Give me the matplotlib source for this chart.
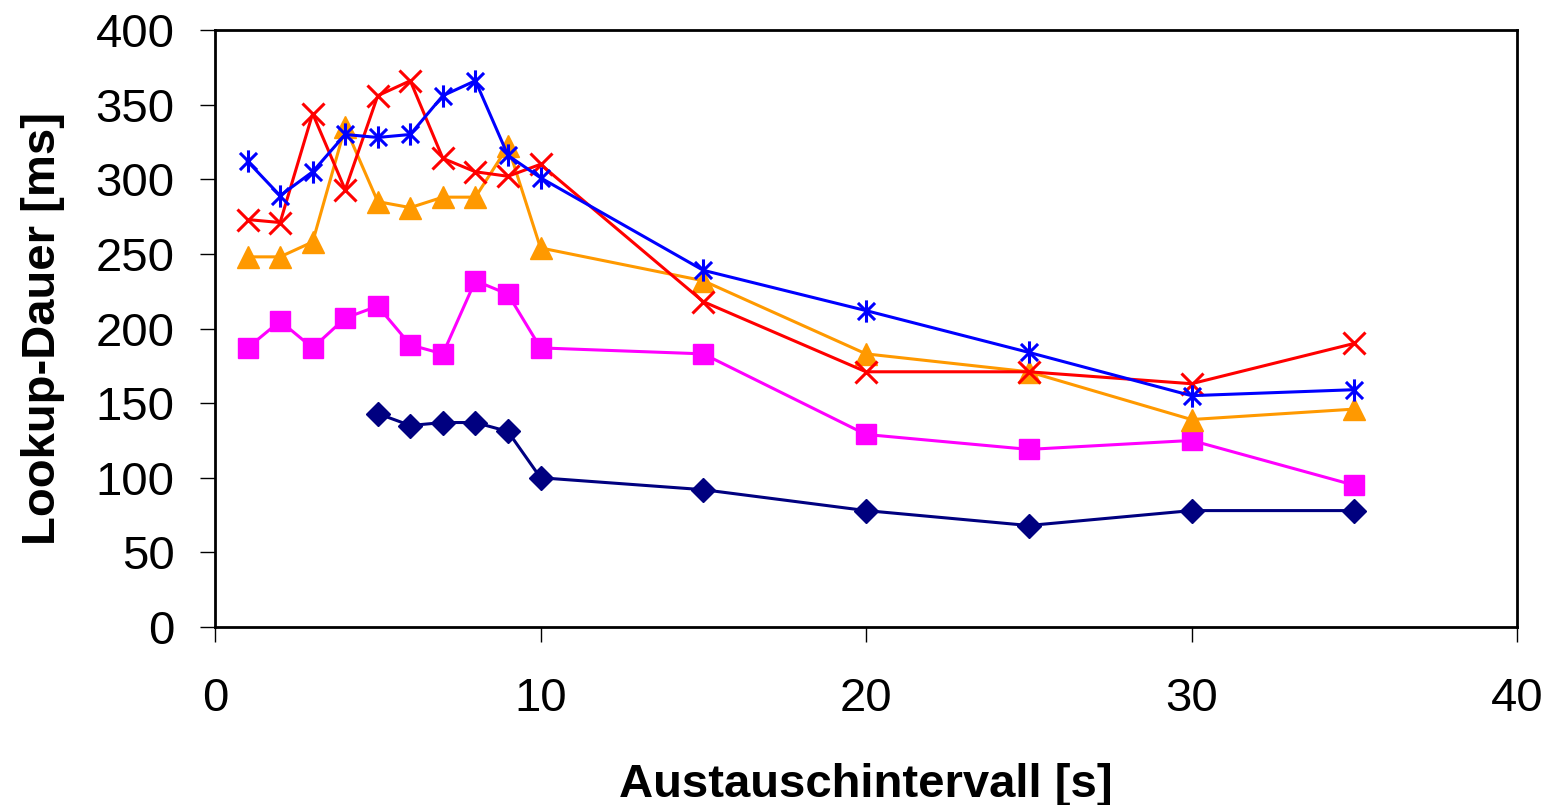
import matplotlib
matplotlib.use('Agg')
import matplotlib.pyplot as plt
from matplotlib.path import Path

matplotlib.rcParams['font.family'] = ['Liberation Sans', 'DejaVu Sans']
matplotlib.rcParams['font.size'] = 34

x_short = [5, 6, 7, 8, 9, 10, 15, 20, 25, 30, 35]
x_full = [1, 2, 3, 4, 5, 6, 7, 8, 9, 10, 15, 20, 25, 30, 35]

navy_vals = [143, 135, 137, 137, 131, 100, 92, 78, 68, 78, 78]
magenta_vals = [187, 205, 187, 207, 215, 189, 183, 232, 223, 187, 183, 129, 119, 125, 95]
orange_vals = [248, 248, 258, 335, 285, 281, 288, 288, 322, 254, 232, 183, 171, 139, 146]
red_vals = [273, 271, 344, 293, 356, 366, 314, 305, 302, 310, 218, 171, 171, 163, 190]
blue_vals = [312, 289, 305, 330, 328, 330, 356, 366, 316, 301, 239, 212, 184, 155, 159]

# excel style star: X with a vertical bar
star = Path([(-1, -1), (1, 1), (-1, 1), (1, -1), (0, -1.3), (0, 1.3)],
            [Path.MOVETO, Path.LINETO, Path.MOVETO, Path.LINETO, Path.MOVETO, Path.LINETO])

fig = plt.figure(figsize=(15.56, 8.05), dpi=100)
ax = fig.add_axes([215 / 1556, 1 - 627 / 805, (1517 - 215) / 1556, (627 - 30) / 805])

ax.plot(x_short, navy_vals, '-', color='#000080', marker='D', markersize=12, lw=2.2)
ax.plot(x_full, magenta_vals, '-', color='#FF00FF', marker='s', markersize=14, lw=2.2)
ax.plot(x_full, orange_vals, '-', color='#FF9900', marker='^', markersize=16, lw=2.2)
ax.plot(x_full, red_vals, '-', color='#FF0000', marker='x', markersize=16, mew=2.2, lw=2.2)
ax.plot(x_full, blue_vals, '-', color='#0000FF', marker=star, markersize=16, mew=2.2, lw=2.2)

ax.set_xlim(0, 40)
ax.set_ylim(0, 400)
ax.set_xticks([0, 10, 20, 30, 40])
ax.set_yticks(range(0, 401, 50))
ax.tick_params(direction='out', length=11, width=1)
ax.tick_params(axis='y', pad=18)
ax.tick_params(axis='x', pad=25)
for s in ax.spines.values():
    s.set_linewidth(2)

ax.set_xlabel('Austauschintervall [s]', fontweight='bold', labelpad=30)
ax.set_ylabel('Lookup-Dauer [ms]', fontweight='bold', labelpad=22)

fig.savefig('out.png', dpi=100)
